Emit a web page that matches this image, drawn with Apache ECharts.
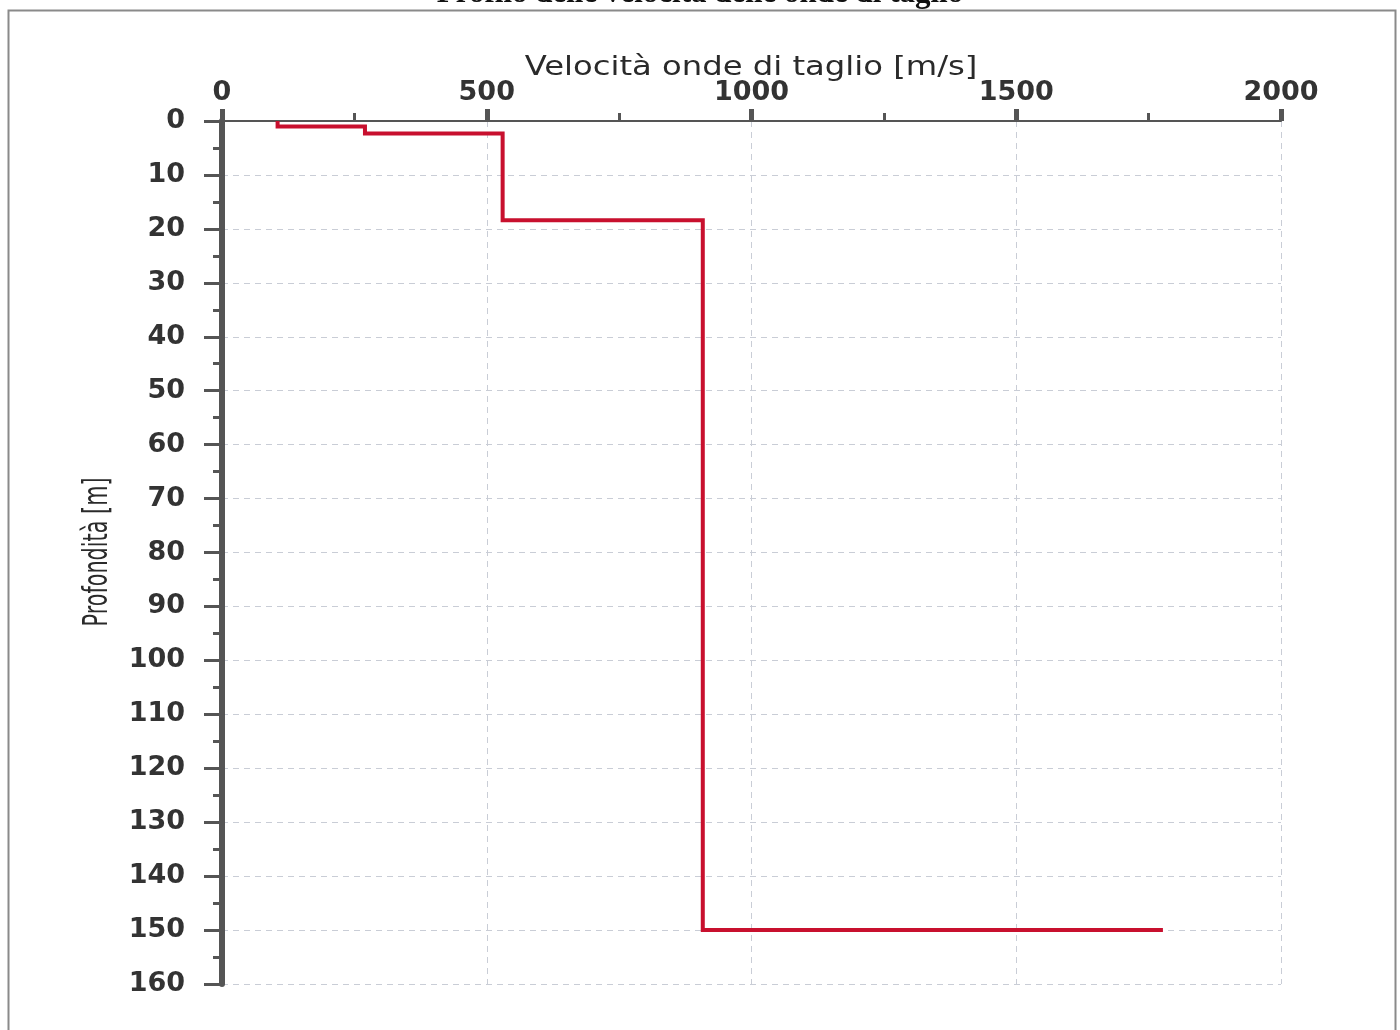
<!DOCTYPE html>
<html>
<head>
<meta charset="utf-8">
<script src="https://cdn.jsdelivr.net/npm/echarts@6/dist/echarts.min.js"></script>
<style>
  html, body { margin: 0; padding: 0; background: #fff; }
  #chart { width: 1400px; height: 1030px; }
</style>
</head>
<body>
<div id="chart"></div>
<script>
// Shear-wave velocity profile: one velocity per layer, layer tops in metres
const layerVelocity = [105, 270, 530, 908, 1777];   // m/s
const layerTop      = [0, 1, 2.3, 18.4, 150];        // m
const velocityTicks = [0, 500, 1000, 1500, 2000];
const depthTicks    = [0, 10, 20, 30, 40, 50, 60, 70, 80, 90, 100, 110, 120, 130, 140, 150, 160];

// Staircase: each layer drawn as a vertical run, then a jump to the next layer's velocity
const profile = [];
for (let i = 0; i < layerVelocity.length; i++) {
  profile.push([layerVelocity[i], layerTop[i]]);
  if (i + 1 < layerTop.length) profile.push([layerVelocity[i], layerTop[i + 1]]);
}

const axisColor = '#555';
const labelColor = '#333';
const gridLine = { show: true, lineStyle: { color: '#c9cdd6', type: [6, 5], width: 1 } };

const chart = echarts.init(document.getElementById('chart'), null, { renderer: 'canvas' });
chart.setOption({
  animation: false,
  backgroundColor: '#fff',
  graphic: [
    {
      type: 'rect', silent: true, z: -1,
      shape: { x: 8.5, y: 10.5, width: 1387, height: 1100 },
      style: { fill: 'none', stroke: '#8a8a8a', lineWidth: 2 }
    },
    {
      type: 'text', silent: true,
      left: 'center', top: -22,
      style: {
        text: 'Profilo delle velocità delle onde di taglio',
        font: 'bold 31px "Liberation Serif", "DejaVu Serif", serif',
        fill: '#111'
      }
    },
    {
      // velocity axis title, wide lettering above the tick labels
      type: 'text', silent: true,
      x: 751, y: 68, scaleX: 1.24, scaleY: 1,
      style: {
        text: 'Velocità onde di taglio [m/s]',
        font: '26px "DejaVu Sans", sans-serif',
        fill: '#2a2a2a',
        align: 'center', verticalAlign: 'middle'
      }
    },
    {
      // depth axis title, narrow and upright along the axis
      type: 'text', silent: true,
      x: 98, y: 552, rotation: Math.PI / 2,
      scaleX: 0.7, scaleY: 1,
      style: {
        text: 'Profondità [m]',
        font: '33px "DejaVu Sans Condensed", "Liberation Sans Narrow", sans-serif',
        fill: '#2a2a2a',
        align: 'center', verticalAlign: 'middle'
      }
    }
  ],
  grid: { left: 222, right: 119, top: 121, bottom: 46, containLabel: false },
  xAxis: {
    type: 'value', position: 'top',
    min: velocityTicks[0], max: velocityTicks[velocityTicks.length - 1], interval: 500,
    axisLine: { show: true, onZero: false, lineStyle: { color: axisColor, width: 2 } },
    axisTick: { show: true, length: 12, lineStyle: { color: axisColor, width: 5 } },
    minorTick: { show: true, splitNumber: 2, length: 8, lineStyle: { color: axisColor, width: 3 } },
    axisLabel: { margin: 15, fontFamily: 'DejaVu Sans', fontWeight: 'bold', fontSize: 27, color: labelColor,
                 formatter: v => String(v) },
    splitLine: gridLine
  },
  yAxis: {
    type: 'value', inverse: true,
    min: depthTicks[0], max: depthTicks[depthTicks.length - 1], interval: 10,
    axisLine: { show: true, onZero: false, lineStyle: { color: axisColor, width: 6 } },
    axisTick: { show: true, length: 18, lineStyle: { color: axisColor, width: 3 } },
    minorTick: { show: true, splitNumber: 2, length: 9, lineStyle: { color: axisColor, width: 3 } },
    axisLabel: { margin: 37, fontFamily: 'DejaVu Sans', fontWeight: 'bold', fontSize: 27, color: labelColor,
                 formatter: v => String(v) },
    splitLine: gridLine
  },
  series: [{
    type: 'line',
    data: profile,
    showSymbol: false,
    lineStyle: { color: '#c8102e', width: 4, join: 'miter' },
    z: 5
  }]
});
</script>
</body>
</html>
